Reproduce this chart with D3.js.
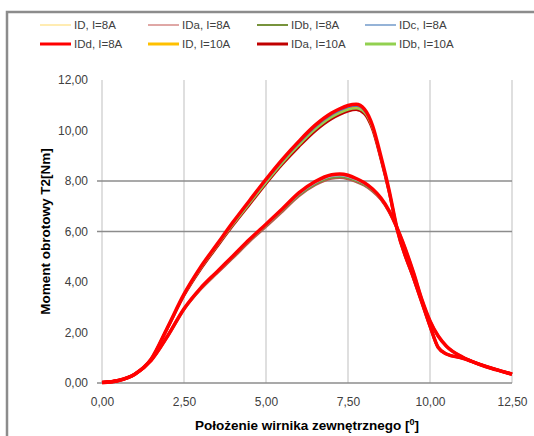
<!DOCTYPE html>
<html lang="pl">
<head>
    <meta charset="UTF-8">
    <title>Moment obrotowy T2</title>
    <style>
        body {
            margin: 0;
            background: #fff;
            font-family: "Liberation Sans", Arial, sans-serif;
        }
        svg {
            display: block;
        }
        .tick text {
            fill: #404040;
            font-size: 12px;
        }
        .legend text {
            fill: #404040;
            font-size: 11.5px;
        }
    </style>
    <script src="https://d3js.org/d3.v7.min.js"></script>
</head>
<body>
<script>
    // kąt położenia wirnika [deg]
    const angles = [0, 0.5, 1, 1.5, 2, 2.5, 3, 3.5, 4, 4.5, 5, 5.5, 6, 6.5, 7, 7.25, 7.5, 7.75, 8, 8.25, 8.5, 8.75, 9, 9.5, 9.75, 10, 10.25, 10.5, 11, 11.5, 12, 12.5]

    // I = 8A
    const id8 = [0.02, 0.1, 0.35, 0.9, 1.85, 2.93, 3.72, 4.37, 5.0, 5.65, 6.24, 6.84, 7.46, 7.9, 8.16, 8.19, 8.14, 8.02, 7.86, 7.63, 7.3, 6.8, 6.12, 4.35, 3.3, 2.45, 1.85, 1.45, 1.02, 0.74, 0.53, 0.35]
    const ida8 = [0.02, 0.1, 0.35, 0.9, 1.85, 2.92, 3.71, 4.35, 4.97, 5.62, 6.2, 6.8, 7.41, 7.85, 8.11, 8.14, 8.09, 7.98, 7.83, 7.6, 7.28, 6.79, 6.12, 4.34, 3.3, 2.45, 1.85, 1.45, 1.02, 0.74, 0.53, 0.35]
    const idb8 = [0.02, 0.1, 0.35, 0.9, 1.85, 2.92, 3.71, 4.36, 4.98, 5.63, 6.22, 6.82, 7.43, 7.87, 8.13, 8.16, 8.11, 8.0, 7.84, 7.61, 7.29, 6.79, 6.11, 4.34, 3.3, 2.45, 1.85, 1.45, 1.02, 0.74, 0.53, 0.35]
    const idc8 = [0.02, 0.1, 0.35, 0.9, 1.86, 2.93, 3.73, 4.38, 5.01, 5.66, 6.25, 6.86, 7.48, 7.93, 8.19, 8.22, 8.17, 8.05, 7.89, 7.65, 7.31, 6.81, 6.12, 4.35, 3.3, 2.45, 1.85, 1.45, 1.02, 0.74, 0.53, 0.35]
    const idd8 = [0.02, 0.1, 0.35, 0.9, 1.86, 2.94, 3.75, 4.4, 5.04, 5.69, 6.29, 6.9, 7.53, 7.98, 8.25, 8.28, 8.23, 8.1, 7.93, 7.68, 7.33, 6.83, 6.13, 4.36, 3.31, 2.46, 1.86, 1.46, 1.02, 0.74, 0.53, 0.35]

    // I = 10A
    const id10 = [0.02, 0.1, 0.35, 0.95, 2.2, 3.49, 4.53, 5.43, 6.31, 7.14, 7.97, 8.75, 9.45, 10.08, 10.56, 10.73, 10.86, 10.91, 10.74, 10.11, 8.94, 7.62, 6.08, 4.15, 3.2, 2.25, 1.4, 1.15, 0.98, 0.75, 0.54, 0.35]
    const ida10 = [0.02, 0.1, 0.35, 0.95, 2.19, 3.47, 4.5, 5.39, 6.26, 7.08, 7.9, 8.67, 9.36, 9.99, 10.47, 10.64, 10.77, 10.83, 10.67, 10.05, 8.9, 7.59, 6.07, 4.14, 3.2, 2.25, 1.4, 1.15, 0.98, 0.75, 0.54, 0.35]
    const idb10 = [0.02, 0.1, 0.35, 0.95, 2.19, 3.48, 4.52, 5.41, 6.28, 7.11, 7.93, 8.71, 9.41, 10.04, 10.52, 10.69, 10.82, 10.87, 10.71, 10.08, 8.92, 7.6, 6.07, 4.14, 3.2, 2.25, 1.4, 1.15, 0.98, 0.75, 0.54, 0.35]
    const idc10 = [0.02, 0.1, 0.35, 0.95, 2.2, 3.5, 4.55, 5.45, 6.34, 7.18, 8.01, 8.8, 9.5, 10.14, 10.62, 10.79, 10.92, 10.97, 10.79, 10.15, 8.96, 7.63, 6.08, 4.15, 3.2, 2.25, 1.4, 1.15, 0.98, 0.75, 0.54, 0.35]
    const idd10 = [0.02, 0.1, 0.35, 0.95, 2.21, 3.52, 4.58, 5.48, 6.38, 7.23, 8.07, 8.86, 9.57, 10.21, 10.69, 10.86, 10.99, 11.04, 10.85, 10.19, 8.99, 7.65, 6.09, 4.16, 3.21, 2.26, 1.41, 1.15, 0.98, 0.75, 0.54, 0.35]

    const seriesNames = ["ID, I=8A", "IDa, I=8A", "IDb, I=8A", "IDc, I=8A", "IDd, I=8A", "ID, I=10A", "IDa, I=10A", "IDb, I=10A", "IDc, I=10A", "IDd, I=10A"]
    const seriesValues = [id8, ida8, idb8, idc8, idd8, id10, ida10, idb10, idc10, idd10]
    const seriesColors = ["#ffd966", "#c0504d", "#77933c", "#95b3d7", "#ff0000", "#ffc000", "#c00000", "#92d050", "#4f81bd", "#ff0000"]
    const legendWidths = [1, 1, 2, 2, 3, 3, 3, 3, 2, 3]
    const plotWidths = [2, 3, 2, 2, 3.5, 2, 3, 2, 2, 3.5]
    const inLegend = [true, true, true, true, true, true, true, true, false, false]
    // kolejność rysowania: czerwone na wierzchu
    const plotOrder = [1, 6, 0, 5, 2, 7, 3, 8, 4, 9]

    const xTicks = [0, 2.5, 5, 7.5, 10, 12.5]
    const yTicks = [0, 2, 4, 6, 8, 10, 12]
    const yGrid = [6, 8]

    const width = 534, height = 436
    const svg = d3.select("body").append("svg")
        .attr("width", width)
        .attr("height", height)

    const x = d3.scaleLinear().domain([0, 12.5]).range([102, 512])
    const y = d3.scaleLinear().domain([0, 12]).range([383, 80])
    const comma = v => d3.format(".2f")(v).replace(".", ",")

    // ramka wykresu
    svg.append("path")
        .attr("d", `M7,${height} V12 H${width}`)
        .attr("fill", "none")
        .attr("stroke", "#8c8c8c")
        .attr("stroke-width", 2.5)

    // siatka pionowa
    svg.append("g")
        .selectAll("line")
        .data(xTicks)
        .enter()
        .append("line")
        .attr("x1", d => x(d))
        .attr("x2", d => x(d))
        .attr("y1", y(12))
        .attr("y2", y(0))
        .attr("stroke", "#d4d4d4")
        .attr("stroke-width", 1.5)

    // siatka pozioma (tylko 6 i 8) + oś X
    svg.append("g")
        .selectAll("line")
        .data(yGrid.concat([0]))
        .enter()
        .append("line")
        .attr("x1", x(0) - 5)
        .attr("x2", x(12.5))
        .attr("y1", d => y(d))
        .attr("y2", d => y(d))
        .attr("stroke", "#8c8c8c")
        .attr("stroke-width", 1.3)

    const yAxis = svg.append("g")
        .attr("transform", `translate(${x(0)},0)`)
        .call(d3.axisLeft(y).tickValues(yTicks).tickFormat(comma).tickSize(0).tickPadding(14))
    yAxis.select(".domain").remove()

    const xAxis = svg.append("g")
        .attr("transform", `translate(0,${y(0)})`)
        .call(d3.axisBottom(x).tickValues(xTicks).tickFormat(comma).tickSize(0).tickPadding(14))
    xAxis.select(".domain").remove()
    svg.selectAll(".tick text").attr("font-family", "Liberation Sans, Arial, sans-serif")

    // tytuły osi
    svg.append("text")
        .attr("transform", `translate(50,${(y(0) + y(12)) / 2}) rotate(-90)`)
        .attr("text-anchor", "middle")
        .attr("font-size", 13.5)
        .attr("font-weight", "bold")
        .attr("fill", "#000")
        .text("Moment obrotowy T2[Nm]")

    const xTitle = svg.append("text")
        .attr("x", (x(0) + x(12.5)) / 2)
        .attr("y", 430)
        .attr("text-anchor", "middle")
        .attr("font-size", 13.5)
        .attr("font-weight", "bold")
        .attr("fill", "#000")
    xTitle.append("tspan").text("Położenie wirnika zewnętrznego [")
    xTitle.append("tspan").attr("dy", -5).attr("font-size", 9).text("0")
    xTitle.append("tspan").attr("dy", 5).text("]")

    // krzywe
    const line = d3.line()
        .x((d, i) => x(angles[i]))
        .y(d => y(d))
        .curve(d3.curveMonotoneX)

    svg.append("g")
        .selectAll("path")
        .data(plotOrder)
        .enter()
        .append("path")
        .attr("d", i => line(seriesValues[i]))
        .attr("fill", "none")
        .attr("stroke", i => seriesColors[i])
        .attr("stroke-width", i => plotWidths[i])
        .attr("stroke-linejoin", "round")

    // legenda
    const legendX = [40, 148, 257, 365]
    const legendY = [25, 44]
    const legendItems = seriesNames.map((n, i) => i).filter(i => inLegend[i])
    const legend = svg.append("g")
        .attr("class", "legend")
        .selectAll("g")
        .data(legendItems)
        .enter()
        .append("g")
        .attr("transform", (d, k) => `translate(${legendX[k % 4]},${legendY[Math.floor(k / 4)]})`)
    legend.append("line")
        .attr("x1", 0)
        .attr("x2", 31)
        .attr("stroke", d => seriesColors[d])
        .attr("stroke-width", d => legendWidths[d])
    legend.append("text")
        .attr("x", 34)
        .attr("dy", "0.35em")
        .text(d => seriesNames[d])
</script>
</body>
</html>
